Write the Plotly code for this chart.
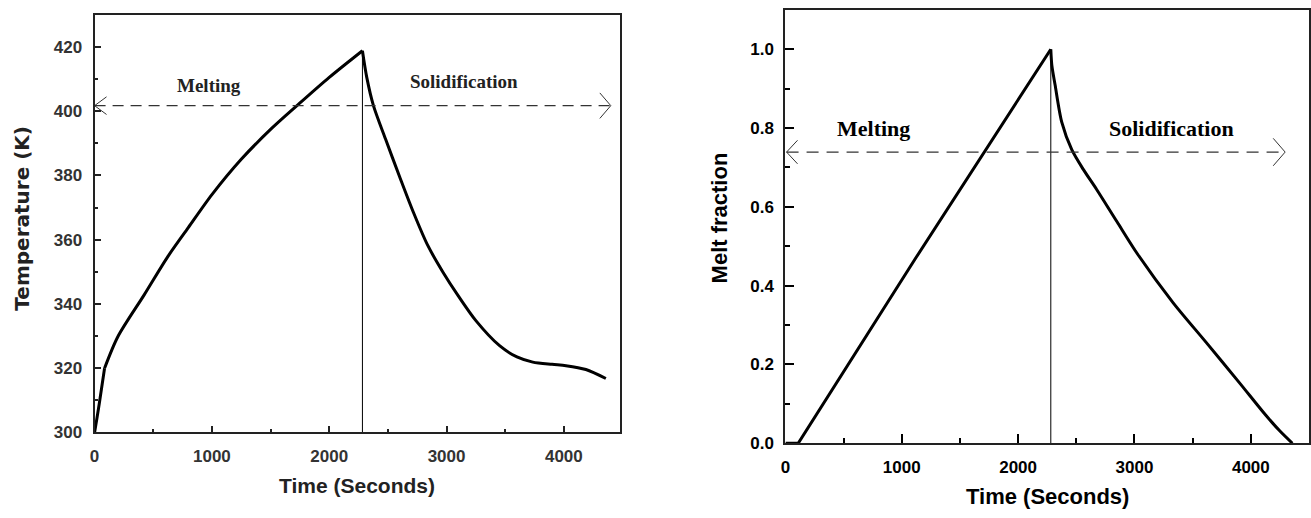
import plotly.graph_objects as go

W, H = 1311, 518

# ---------------- data ----------------
# Left panel: temperature vs time
melt_time_T = [0, 20, 42, 85, 198, 424, 620, 800, 1000, 1250, 1500, 1725, 2000, 2283]
melt_temp = [300, 304.4, 309.5, 320, 329.8, 342.9, 354.5, 363.8, 374.0, 385.0, 394.3,
             401.7, 410.5, 418.8]
solid_time_T = [2283, 2320, 2377, 2480, 2600, 2720, 2840, 2971, 3100, 3250, 3452, 3600,
                3735, 3900, 4018, 4188, 4358]
solid_temp = [418.8, 410.5, 401.7, 391.3, 379.6, 368.3, 358.2, 349.8, 342.5, 334.8, 327.0,
              323.5, 321.9, 321.2, 320.8, 319.6, 316.8]

# Right panel: melt fraction vs time
melt_time_f = [0, 110, 1120, 2281]
melt_frac = [0.0, 0.0, 0.47, 1.0]
solid_time_f = [2281, 2290, 2318, 2375, 2461, 2560, 2675, 2850, 3029, 3331, 3616, 3901,
                4129, 4250, 4357]
solid_frac = [1.0, 0.959, 0.909, 0.815, 0.745, 0.695, 0.644, 0.562, 0.479, 0.357, 0.256,
              0.154, 0.071, 0.031, 0.0]

switch_time_T = 2283
switch_time_f = 2281
ref_temp = 401.7
ref_frac = 0.739
arrow_span_T = [0, 4400]
arrow_span_f = [10, 4295]

labels_T = [("Melting", 975, 408.0), ("Solidification", 3150, 409.3)]
labels_f = [("Melting", 758, 0.80), ("Solidification", 3316, 0.80)]

x_ticks = [0, 1000, 2000, 3000, 4000]
y_ticks_T = [300, 320, 340, 360, 380, 400, 420]
y_ticks_f = [0.0, 0.2, 0.4, 0.6, 0.8, 1.0]

# ---------------- layout geometry (pixels) ----------------
L = dict(x0=90, x1=618, y0=15, y1=441, xr=[0, 4480], yr=[300, 430])
R = dict(x0=784, x1=1310, y0=10, y1=452, xr=[0, 4500], yr=[0, 1.1])


def dom(p):
    return [p["x0"] / W, p["x1"] / W], [(H - p["y1"]) / H, (H - p["y0"]) / H]


def scale(p):
    sx = (p["xr"][1] - p["xr"][0]) / (p["x1"] - p["x0"])
    sy = (p["yr"][1] - p["yr"][0]) / (p["y1"] - p["y0"])
    return sx, sy


fig = go.Figure()
BLACK = "#000000"


def curve(xs, ys, xa, ya):
    fig.add_trace(go.Scatter(x=xs, y=ys, mode="lines",
                             line=dict(color=BLACK, width=3, shape="spline", smoothing=0.8),
                             xaxis=xa, yaxis=ya))


curve(melt_time_T[:4], melt_temp[:4], "x", "y")
curve(melt_time_T[3:], melt_temp[3:], "x", "y")
curve(solid_time_T, solid_temp, "x", "y")
fig.add_trace(go.Scatter(x=melt_time_f, y=melt_frac, mode="lines",
                         line=dict(color=BLACK, width=3), xaxis="x2", yaxis="y2"))
curve(solid_time_f, solid_frac, "x2", "y2")

# vertical separators
fig.add_trace(go.Scatter(x=[switch_time_T, switch_time_T], y=[L["yr"][0], max(melt_temp)],
                         mode="lines", line=dict(color=BLACK, width=1), xaxis="x", yaxis="y"))
fig.add_trace(go.Scatter(x=[switch_time_f, switch_time_f], y=[R["yr"][0], max(melt_frac)],
                         mode="lines", line=dict(color=BLACK, width=1), xaxis="x2", yaxis="y2"))


# dashed double arrows
def double_arrow(p, span, yv, xa, ya, dash, arm_l, arm_r):
    sx, sy = scale(p)
    fig.add_trace(go.Scatter(x=span, y=[yv, yv], mode="lines",
                             line=dict(color="#333333", width=1.2, dash=dash),
                             xaxis=xa, yaxis=ya))
    dxl, dyl = arm_l[0] * sx, arm_l[1] * sy
    fig.add_trace(go.Scatter(x=[span[0] + dxl, span[0], span[0] + dxl],
                             y=[yv + dyl, yv, yv - dyl], mode="lines",
                             line=dict(color="#333333", width=1), xaxis=xa, yaxis=ya))
    dxr, dyr = arm_r[0] * sx, arm_r[1] * sy
    fig.add_trace(go.Scatter(x=[span[1] - dxr, span[1], span[1] - dxr],
                             y=[yv + dyr, yv, yv - dyr], mode="lines",
                             line=dict(color="#333333", width=1), xaxis=xa, yaxis=ya))


double_arrow(L, arrow_span_T, ref_temp, "x", "y", "11px,7px", (12, 9), (11, 13))
double_arrow(R, arrow_span_f, ref_frac, "x2", "y2", "12px,8px", (11, 12), (12, 14))

annotations = []
for txt, xv, yv in labels_T:
    annotations.append(dict(text=txt, x=xv, y=yv, xref="x", yref="y", showarrow=False,
                            font=dict(family="Liberation Serif", size=19, color="#222222",
                                      weight="bold")))
for txt, xv, yv in labels_f:
    annotations.append(dict(text=txt, x=xv, y=yv, xref="x2", yref="y2", showarrow=False,
                            font=dict(family="Liberation Serif", size=22, color=BLACK,
                                      weight="bold")))


def title(txt, cx, cy, size, angle=0, color=BLACK, family="Liberation Sans"):
    annotations.append(dict(text=txt, x=cx / W, y=1 - cy / H, xref="paper", yref="paper",
                            showarrow=False, textangle=angle, xanchor="center",
                            yanchor="middle",
                            font=dict(family=family, size=size, color=color,
                                      weight="bold")))


title("Time (Seconds)", 354, 495, 21, color="#222222")
title("Temperature (K)", 17, 222, 20, angle=-90, color="#222222", family="DejaVu Sans")
title("Time (Seconds)", 1047, 506, 22)
title("Melt fraction", 718, 222, 22, angle=-90)

lxd, lyd = dom(L)
rxd, ryd = dom(R)

tickfont_L = dict(family="Liberation Sans", size=17, color="#333333", weight="bold")
tickfont_R = dict(family="Liberation Sans", size=17, color=BLACK, weight="bold")

common = dict(showgrid=False, zeroline=False, showline=True, mirror=True,
              ticks="inside", linecolor="#222222")

fig.update_layout(
    width=W, height=H, margin=dict(l=0, r=0, t=0, b=0),
    paper_bgcolor="white", plot_bgcolor="white", showlegend=False,
    annotations=annotations,
    xaxis=dict(domain=lxd, range=L["xr"], tickvals=x_ticks, linewidth=2, ticklen=6,
               tickwidth=1.5, tickcolor="#222222", tickfont=tickfont_L, anchor="y",
               minor=dict(dtick=500, ticklen=3, tickcolor="#222222", ticks="inside"),
               ticklabelstandoff=7, **common),
    yaxis=dict(domain=lyd, range=L["yr"], tickvals=y_ticks_T, linewidth=2, ticklen=6,
               tickwidth=1.5, tickcolor="#222222", tickfont=tickfont_L, anchor="x",
               minor=dict(dtick=10, ticklen=3, tickcolor="#222222", ticks="inside"),
               ticklabelstandoff=7, **common),
    xaxis2=dict(domain=rxd, range=R["xr"], tickvals=x_ticks, linewidth=2, ticklen=9,
                tickwidth=1.5, tickcolor=BLACK, tickfont=tickfont_R, anchor="y2",
                minor=dict(dtick=500, ticklen=5, tickcolor=BLACK, ticks="inside"),
                ticklabelstandoff=7, **common),
    yaxis2=dict(domain=ryd, range=R["yr"], tickvals=y_ticks_f, tickformat=".1f",
                linewidth=2, ticklen=9, tickwidth=1.5, tickcolor=BLACK,
                tickfont=tickfont_R, anchor="x2",
                minor=dict(dtick=0.1, ticklen=5, tickcolor=BLACK, ticks="inside"),
                ticklabelstandoff=6, **common),
)

fig.write_html("out.html")
